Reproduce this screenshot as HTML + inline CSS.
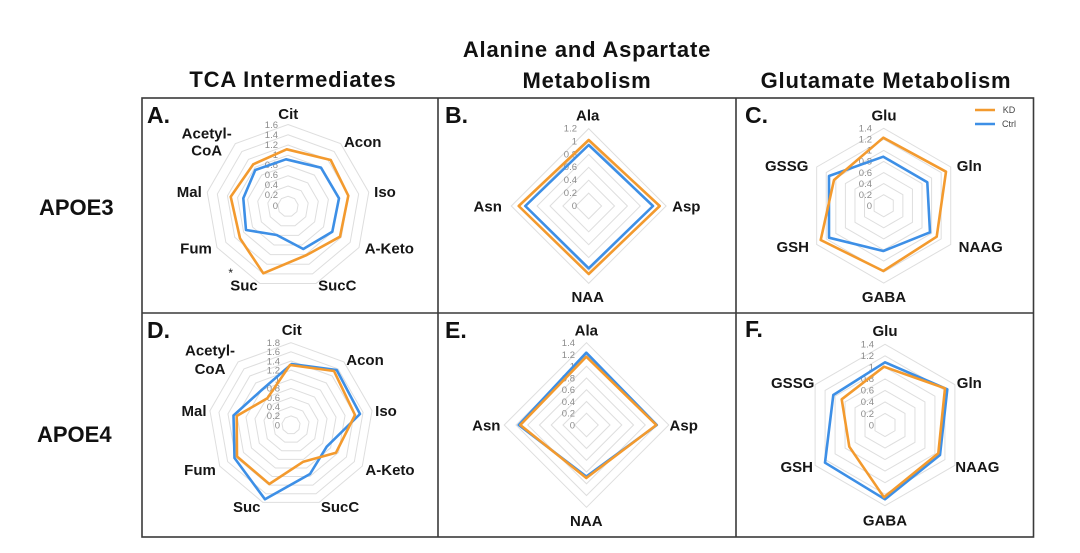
<!DOCTYPE html>
<html>
<head>
<meta charset="utf-8">
<style>
  html, body { margin: 0; padding: 0; background: #ffffff; }
  svg { display: block; }
  .hdr { font-family: "Liberation Sans", sans-serif; font-weight: bold; font-size: 22px; fill: #111; letter-spacing: 0.8px; }
  .apoe { font-family: "Liberation Sans", sans-serif; font-weight: bold; font-size: 22px; fill: #111; }
  .pl { font-family: "Liberation Sans", sans-serif; font-weight: bold; font-size: 23px; fill: #111; }
  .lab { font-family: "Liberation Sans", sans-serif; font-weight: bold; font-size: 15px; fill: #161616; text-anchor: middle; }
  .tk { font-family: "Liberation Sans", sans-serif; font-size: 9.5px; fill: #8c8c8c; text-anchor: end; }
  .leg { font-family: "Liberation Sans", sans-serif; font-size: 9px; fill: #444; text-anchor: middle; }
  .ring { fill: none; stroke: #dedede; stroke-width: 1; vector-effect: non-scaling-stroke; }
  .kd { fill: none; stroke: #F39A2E; stroke-width: 2.6; stroke-linejoin: round; }
  .ct { fill: none; stroke: #3D8FE6; stroke-width: 2.6; stroke-linejoin: round; }
</style>
</head>
<body>
<svg width="1080" height="553" viewBox="0 0 1080 553" xmlns="http://www.w3.org/2000/svg">
  <defs>
    <polygon id="non" class="ring" points="0,-1 0.6428,-0.7660 0.9848,-0.1736 0.8660,0.5 0.3420,0.9397 -0.3420,0.9397 -0.8660,0.5 -0.9848,-0.1736 -0.6428,-0.7660"/>
    <polygon id="hex" class="ring" points="0,-1 0.8660,-0.5 0.8660,0.5 0,1 -0.8660,0.5 -0.8660,-0.5"/>
    <polygon id="dia" class="ring" points="0,-1 1,0 0,1 -1,0"/>
  </defs>
  <rect x="0" y="0" width="1080" height="553" fill="#ffffff"/>

  <!-- Column headers -->
  <text class="hdr" x="293" y="87" text-anchor="middle">TCA Intermediates</text>
  <text class="hdr" x="587" y="57" text-anchor="middle">Alanine and Aspartate</text>
  <text class="hdr" x="587" y="88" text-anchor="middle">Metabolism</text>
  <text class="hdr" x="886" y="88" text-anchor="middle">Glutamate Metabolism</text>

  <!-- Row labels -->
  <text class="apoe" x="39" y="215">APOE3</text>
  <text class="apoe" x="37" y="442">APOE4</text>

  <!-- Grid box -->
  <g stroke="#3a3a3a" stroke-width="1.6" fill="none">
    <rect x="142" y="98" width="891.5" height="439"/>
    <line x1="438" y1="98" x2="438" y2="537"/>
    <line x1="736" y1="98" x2="736" y2="537"/>
    <line x1="142" y1="313" x2="1033.5" y2="313"/>
  </g>

  <!-- ================= Panel A ================= -->
  <text class="pl" x="147" y="123">A.</text>
  <g transform="translate(288,206.5)">
    <use href="#non" transform="scale(10.25)"/>
    <use href="#non" transform="scale(20.5)"/>
    <use href="#non" transform="scale(30.75)"/>
    <use href="#non" transform="scale(41)"/>
    <use href="#non" transform="scale(51.25)"/>
    <use href="#non" transform="scale(61.5)"/>
    <use href="#non" transform="scale(71.75)"/>
    <use href="#non" transform="scale(82)"/>
  </g>
  <g class="tk">
    <text x="278" y="128">1.6</text>
    <text x="278" y="138">1.4</text>
    <text x="278" y="148">1.2</text>
    <text x="278" y="158">1</text>
    <text x="278" y="168">0.8</text>
    <text x="278" y="178">0.6</text>
    <text x="278" y="188">0.4</text>
    <text x="278" y="198">0.2</text>
    <text x="278" y="209">0</text>
  </g>
  <polygon class="ct" points="286,159.3 321,167.7 339,198.3 332.3,231.7 303.3,249 276.7,235 246,230 243.3,198.3 255.3,170"/>
  <polygon class="kd" points="286.7,149.3 330.7,160 348.3,195.7 340,236.7 306.7,255 263.3,273.3 240,238.3 230.7,196.7 253.3,164.3"/>
  <g class="lab">
    <text x="288.3" y="119">Cit</text>
    <text x="206.7" y="138.5">Acetyl-</text>
    <text x="206.7" y="155.5">CoA</text>
    <text x="362.7" y="147">Acon</text>
    <text x="385" y="197">Iso</text>
    <text x="389.3" y="253.5">A-Keto</text>
    <text x="337.3" y="290.5">SucC</text>
    <text x="244" y="290.5">Suc</text>
    <text x="196" y="253.5">Fum</text>
    <text x="189.3" y="197">Mal</text>
  </g>
  <text x="230.7" y="277" font-family="Liberation Sans, sans-serif" font-size="12" fill="#222" text-anchor="middle">*</text>

  <!-- ================= Panel B ================= -->
  <text class="pl" x="445" y="123">B.</text>
  <g transform="translate(588.7,206)">
    <use href="#dia" transform="scale(12.9)"/>
    <use href="#dia" transform="scale(25.8)"/>
    <use href="#dia" transform="scale(38.7)"/>
    <use href="#dia" transform="scale(51.6)"/>
    <use href="#dia" transform="scale(64.5)"/>
    <use href="#dia" transform="scale(77.4)"/>
  </g>
  <g class="tk">
    <text x="577" y="131.5">1.2</text>
    <text x="577" y="144.4">1</text>
    <text x="577" y="157.3">0.8</text>
    <text x="577" y="170.2">0.6</text>
    <text x="577" y="183.1">0.4</text>
    <text x="577" y="196">0.2</text>
    <text x="577" y="209">0</text>
  </g>
  <polygon class="ct" points="588.7,145 653,206 588.7,268.3 525.3,206"/>
  <polygon class="kd" points="588.7,140 659.7,206 588.7,274 518.7,206"/>
  <g class="lab">
    <text x="587.7" y="120.5">Ala</text>
    <text x="686.3" y="211.5">Asp</text>
    <text x="587.7" y="302">NAA</text>
    <text x="487.7" y="211.5">Asn</text>
  </g>

  <!-- ================= Panel C ================= -->
  <text class="pl" x="745" y="123">C.</text>
  <g transform="translate(883.7,205.7)">
    <use href="#hex" transform="scale(11.06)"/>
    <use href="#hex" transform="scale(22.12)"/>
    <use href="#hex" transform="scale(33.18)"/>
    <use href="#hex" transform="scale(44.24)"/>
    <use href="#hex" transform="scale(55.3)"/>
    <use href="#hex" transform="scale(66.36)"/>
    <use href="#hex" transform="scale(77.4)"/>
  </g>
  <g class="tk">
    <text x="872" y="131.5">1.4</text>
    <text x="872" y="142.6">1.2</text>
    <text x="872" y="153.6">1</text>
    <text x="872" y="164.7">0.8</text>
    <text x="872" y="175.8">0.6</text>
    <text x="872" y="186.8">0.4</text>
    <text x="872" y="197.9">0.2</text>
    <text x="872" y="209">0</text>
  </g>
  <polygon class="ct" points="883.3,156.7 927.3,182.3 930,232.3 883.3,251 829,237.7 829,176"/>
  <polygon class="kd" points="883.3,137.7 946,171.7 936.7,236.7 883.3,271 820.7,240 834,180"/>
  <g class="lab">
    <text x="884" y="120.5">Glu</text>
    <text x="969.3" y="171">Gln</text>
    <text x="980.7" y="252">NAAG</text>
    <text x="884" y="302">GABA</text>
    <text x="792.7" y="252">GSH</text>
    <text x="786.7" y="171">GSSG</text>
  </g>
  <!-- legend -->
  <line x1="975" y1="110" x2="995" y2="110" stroke="#F39A2E" stroke-width="2.6"/>
  <line x1="975" y1="124" x2="995" y2="124" stroke="#3D8FE6" stroke-width="2.6"/>
  <text class="leg" x="1009" y="113">KD</text>
  <text class="leg" x="1009" y="127">Ctrl</text>

  <!-- ================= Panel D ================= -->
  <text class="pl" x="147" y="338">D.</text>
  <g transform="translate(291,425)">
    <use href="#non" transform="scale(9.14)"/>
    <use href="#non" transform="scale(18.29)"/>
    <use href="#non" transform="scale(27.43)"/>
    <use href="#non" transform="scale(36.58)"/>
    <use href="#non" transform="scale(45.72)"/>
    <use href="#non" transform="scale(54.87)"/>
    <use href="#non" transform="scale(64.01)"/>
    <use href="#non" transform="scale(73.16)"/>
    <use href="#non" transform="scale(82.3)"/>
  </g>
  <g class="tk">
    <text x="280" y="346">1.8</text>
    <text x="280" y="355.2">1.6</text>
    <text x="280" y="364.3">1.4</text>
    <text x="280" y="373.4">1.2</text>
    <text x="280" y="382.6">1</text>
    <text x="280" y="391.7">0.8</text>
    <text x="280" y="400.9">0.6</text>
    <text x="280" y="410">0.4</text>
    <text x="280" y="419.2">0.2</text>
    <text x="280" y="428.3">0</text>
  </g>
  <polygon class="ct" points="291.7,364 336.7,370 360,414 326.7,446.7 310,474 265,499.3 234.5,458 233.5,415.5 261.7,390"/>
  <polygon class="kd" points="290,365 334,371 355,415 336,452.7 303.3,461.7 269.3,484 237,456.5 236.7,416 267.3,398.3"/>
  <g class="lab">
    <text x="291.7" y="334.8">Cit</text>
    <text x="210" y="355.5">Acetyl-</text>
    <text x="210" y="373.8">CoA</text>
    <text x="365" y="364.8">Acon</text>
    <text x="386" y="416.2">Iso</text>
    <text x="390" y="474.8">A-Keto</text>
    <text x="340" y="512.2">SucC</text>
    <text x="246.7" y="512.2">Suc</text>
    <text x="200" y="474.8">Fum</text>
    <text x="194" y="416.2">Mal</text>
  </g>

  <!-- ================= Panel E ================= -->
  <text class="pl" x="445" y="338">E.</text>
  <g transform="translate(586.5,425)">
    <use href="#dia" transform="scale(11.76)"/>
    <use href="#dia" transform="scale(23.51)"/>
    <use href="#dia" transform="scale(35.27)"/>
    <use href="#dia" transform="scale(47.03)"/>
    <use href="#dia" transform="scale(58.79)"/>
    <use href="#dia" transform="scale(70.54)"/>
    <use href="#dia" transform="scale(82.3)"/>
  </g>
  <g class="tk">
    <text x="575" y="346">1.4</text>
    <text x="575" y="357.8">1.2</text>
    <text x="575" y="369.5">1</text>
    <text x="575" y="381.3">0.8</text>
    <text x="575" y="393">0.6</text>
    <text x="575" y="404.8">0.4</text>
    <text x="575" y="416.5">0.2</text>
    <text x="575" y="428.3">0</text>
  </g>
  <polygon class="ct" points="586.3,352.7 656.8,425 586.3,476.5 518.7,425"/>
  <polygon class="kd" points="586.3,356.7 656.3,425 586.3,478 520.3,425"/>
  <g class="lab">
    <text x="586.3" y="335.5">Ala</text>
    <text x="683.7" y="430.5">Asp</text>
    <text x="586.3" y="526.2">NAA</text>
    <text x="486.3" y="430.5">Asn</text>
  </g>

  <!-- ================= Panel F ================= -->
  <text class="pl" x="745" y="337">F.</text>
  <g transform="translate(885,425)">
    <use href="#hex" transform="scale(11.53)"/>
    <use href="#hex" transform="scale(23.06)"/>
    <use href="#hex" transform="scale(34.59)"/>
    <use href="#hex" transform="scale(46.11)"/>
    <use href="#hex" transform="scale(57.64)"/>
    <use href="#hex" transform="scale(69.17)"/>
    <use href="#hex" transform="scale(80.7)"/>
  </g>
  <g class="tk">
    <text x="874" y="347.6">1.4</text>
    <text x="874" y="359.1">1.2</text>
    <text x="874" y="370.7">1</text>
    <text x="874" y="382.2">0.8</text>
    <text x="874" y="393.7">0.6</text>
    <text x="874" y="405.2">0.4</text>
    <text x="874" y="416.8">0.2</text>
    <text x="874" y="428.3">0</text>
  </g>
  <polygon class="ct" points="885,362.3 947.3,389.3 940,455 885,499.3 825,462.7 833.3,395"/>
  <polygon class="kd" points="884,366.7 945,388.3 938.3,453.3 884,497.3 849.3,446.7 841.7,399.3"/>
  <g class="lab">
    <text x="885" y="336.2">Glu</text>
    <text x="969.3" y="388.2">Gln</text>
    <text x="977.3" y="472.2">NAAG</text>
    <text x="885" y="525.5">GABA</text>
    <text x="796.7" y="472.2">GSH</text>
    <text x="792.7" y="388.2">GSSG</text>
  </g>
</svg>
</body>
</html>
